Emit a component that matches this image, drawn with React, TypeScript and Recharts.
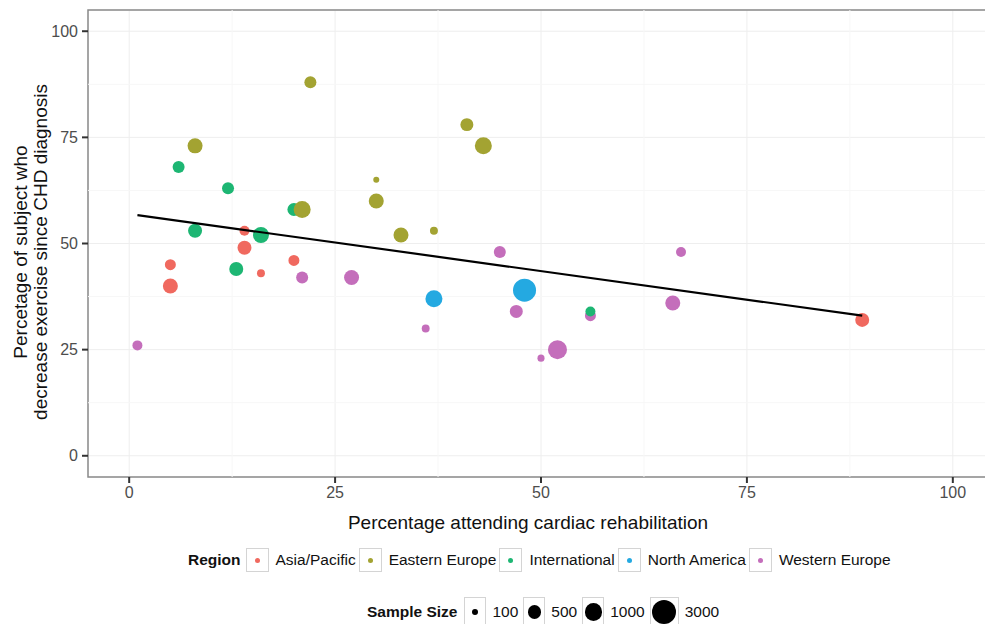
import React from 'react';
import { ScatterChart, Scatter, XAxis, YAxis, ZAxis, CartesianGrid, ReferenceLine, ReferenceArea, Cell } from 'recharts';

const FONT = '"Liberation Sans", Arial, Helvetica, sans-serif';

const REGIONS = ['Asia/Pacific', 'Eastern Europe', 'International', 'North America', 'Western Europe'];
const REGION_COLORS = ['#F0695F', '#A3A332', '#1DB673', '#24A9E1', '#C46EBB'];

// one entry per study, drawn in this order
const studyRegion = [
  'Asia/Pacific', 'Asia/Pacific', 'Asia/Pacific', 'Asia/Pacific', 'Asia/Pacific', 'Asia/Pacific', 'Asia/Pacific',
  'Western Europe', 'Western Europe', 'Western Europe', 'Western Europe', 'Western Europe', 'Western Europe',
  'Western Europe', 'Western Europe', 'Western Europe', 'Western Europe', 'Western Europe',
  'International', 'International', 'International', 'International', 'International', 'International', 'International',
  'Eastern Europe', 'Eastern Europe', 'Eastern Europe', 'Eastern Europe', 'Eastern Europe', 'Eastern Europe',
  'Eastern Europe', 'Eastern Europe', 'Eastern Europe',
  'North America', 'North America',
];
const attendPct = [5, 5, 14, 14, 16, 20, 89, 1, 21, 27, 36, 45, 47, 50, 52, 56, 66, 67, 6, 12, 8, 13, 16, 20, 56, 8, 22, 21, 30, 30, 33, 37, 41, 43, 37, 48];
const decreasePct = [40, 45, 49, 53, 43, 46, 32, 26, 42, 42, 30, 48, 34, 23, 25, 33, 36, 48, 68, 63, 53, 44, 52, 58, 34, 73, 88, 58, 65, 60, 52, 53, 78, 73, 37, 39];
const sampleSize = [660, 290, 540, 235, 150, 290, 540, 235, 360, 660, 150, 360, 440, 125, 1370, 290, 660, 235, 360, 360, 540, 540, 800, 440, 235, 660, 360, 960, 100, 660, 660, 150, 440, 960, 960, 2600];

// fitted regression line end points
const trendX = [1, 89];
const trendY = [56.7, 33.0];

const xTicks = [0, 25, 50, 75, 100];
const yTicks = [0, 25, 50, 75, 100];
const minorBreaks = [12.5, 37.5, 62.5, 87.5];
const sizeBreaks = [100, 500, 1000, 3000];

const SIZE_DOMAIN = [100, 3000];
const SIZE_RANGE = [28.3, 452.4];

const points = attendPct.map((x, i) => ({ x, y: decreasePct[i], n: sampleSize[i], region: studyRegion[i] }));
const trendData = trendX.map((x, i) => ({ x, y: trendY[i] }));

// same sqrt mapping as the ZAxis, for the html legend
const sizeRadius = (n: number) => {
  const t = (Math.sqrt(n) - Math.sqrt(SIZE_DOMAIN[0])) / (Math.sqrt(SIZE_DOMAIN[1]) - Math.sqrt(SIZE_DOMAIN[0]));
  const area = SIZE_RANGE[0] + t * (SIZE_RANGE[1] - SIZE_RANGE[0]);
  return Math.sqrt(area / Math.PI);
};

const YTitle = () => (
  <text transform="rotate(-90)" fontFamily={FONT} fontSize={19} fill="#111" textAnchor="middle">
    <tspan x={-252} y={27}>Percetage of subject who</tspan>
    <tspan x={-252} y={47}>decrease exercise since CHD diagnosis</tspan>
  </text>
);

const XTitle = () => (
  <text x={528} y={529} fontFamily={FONT} fontSize={19} fill="#111" textAnchor="middle">
    Percentage attending cardiac rehabilitation
  </text>
);

const keyBox = (w: number, h: number): React.CSSProperties => ({
  width: w,
  height: h,
  boxSizing: 'border-box',
  border: '1px solid #d4d4d4',
  display: 'flex',
  alignItems: 'center',
  justifyContent: 'center',
  background: '#fff',
});

export default function App() {
  return (
    <div style={{ position: 'relative', width: 985, height: 624, overflow: 'hidden', background: '#fff', fontFamily: FONT }}>
      <style>{'body { margin: 0; }'}</style>
      <ScatterChart width={1000} height={624} margin={{ top: 10, right: 6, left: 28, bottom: 92 }}>
        <CartesianGrid stroke="#eeeeee" strokeWidth={1} />
        {minorBreaks.map((v) => (
          <ReferenceLine key={`mx${v}`} x={v} stroke="#f7f7f7" strokeWidth={1} />
        ))}
        {minorBreaks.map((v) => (
          <ReferenceLine key={`my${v}`} y={v} stroke="#f7f7f7" strokeWidth={1} />
        ))}
        <XAxis
          type="number"
          dataKey="x"
          domain={[-5, 105]}
          ticks={xTicks}
          allowDataOverflow
          height={55}
          axisLine={false}
          tickSize={6}
          tickMargin={4}
          tickLine={{ stroke: '#333', strokeWidth: 2 }}
          tick={{ fill: '#4d4d4d', fontSize: 16, fontFamily: FONT }}
          label={{ content: XTitle }}
        />
        <YAxis
          type="number"
          dataKey="y"
          domain={[-5, 105]}
          ticks={yTicks}
          allowDataOverflow
          width={60}
          axisLine={false}
          tickSize={6}
          tickMargin={4}
          tickLine={{ stroke: '#333', strokeWidth: 2 }}
          tick={{ fill: '#4d4d4d', fontSize: 16, fontFamily: FONT }}
          label={{ content: YTitle }}
        />
        <ZAxis type="number" dataKey="n" scale="sqrt" domain={SIZE_DOMAIN} range={SIZE_RANGE} />
        <ReferenceArea x1={-5} x2={105} y1={-5} y2={105} fill="none" stroke="#8a8a8a" strokeWidth={1.5} ifOverflow="visible" />
        <Scatter data={points} isAnimationActive={false}>
          {points.map((p, i) => (
            <Cell key={i} fill={REGION_COLORS[REGIONS.indexOf(p.region)]} />
          ))}
        </Scatter>
        <Scatter
          data={trendData}
          isAnimationActive={false}
          line={{ stroke: '#000', strokeWidth: 2.2 }}
          shape={() => <g />}
          legendType="none"
        />
      </ScatterChart>

      <div style={{ position: 'absolute', left: 188, top: 548, height: 24, display: 'flex', alignItems: 'center', fontSize: 15.5, color: '#111' }}>
        <span style={{ fontWeight: 'bold', marginRight: 5 }}>Region</span>
        {REGIONS.map((r, i) => (
          <React.Fragment key={r}>
            <div style={keyBox(23, 24)}>
              <div style={{ width: 5, height: 5, borderRadius: '50%', background: REGION_COLORS[i] }} />
            </div>
            <span style={{ marginLeft: 7, marginRight: 3 }}>{r}</span>
          </React.Fragment>
        ))}
      </div>

      <div style={{ position: 'absolute', left: 367, top: 597, height: 30, display: 'flex', alignItems: 'center', fontSize: 15.5, color: '#111' }}>
        <span style={{ fontWeight: 'bold', marginRight: 7 }}>Sample Size</span>
        {sizeBreaks.map((n) => {
          const r = sizeRadius(n);
          return (
            <React.Fragment key={n}>
              <div style={keyBox(Math.max(22, Math.round(2 * r + 5)), 30)}>
                <div style={{ width: 2 * r, height: 2 * r, borderRadius: '50%', background: '#000' }} />
              </div>
              <span style={{ marginLeft: 6, marginRight: 5 }}>{n}</span>
            </React.Fragment>
          );
        })}
      </div>
    </div>
  );
}
